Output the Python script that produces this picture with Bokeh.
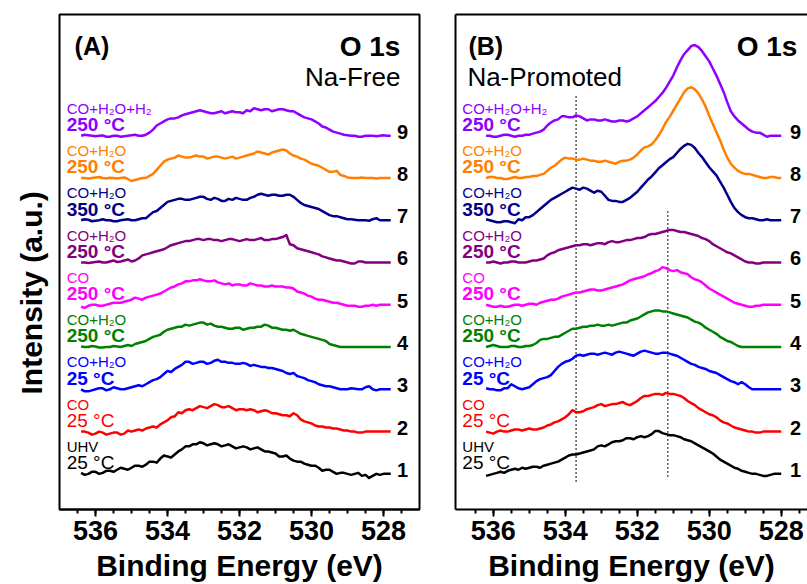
from bokeh.plotting import figure
from bokeh.layouts import row
from bokeh.models import Range1d, FixedTicker, Label, Title, LinearAxis
from bokeh.embed import file_html
from bokeh.resources import INLINE

FONT = "Liberation Sans"

# ---------------- data ----------------
energy_free = [536.4, 536.3, 536.2, 536.1, 536.0, 535.9, 535.8, 535.7, 535.6, 535.5,
               535.4, 535.3, 535.2, 535.1, 535.0, 534.9, 534.8, 534.7, 534.6, 534.5,
               534.4, 534.3, 534.2, 534.1, 534.0, 533.9, 533.8, 533.7, 533.6, 533.5,
               533.4, 533.3, 533.2, 533.1, 533.0, 532.9, 532.8, 532.7, 532.6, 532.5,
               532.4, 532.3, 532.2, 532.1, 532.0, 531.9, 531.8, 531.7, 531.6, 531.5,
               531.4, 531.3, 531.2, 531.1, 531.0, 530.9, 530.8, 530.7, 530.6, 530.5,
               530.4, 530.3, 530.2, 530.1, 530.0, 529.9, 529.8, 529.7, 529.6, 529.5,
               529.4, 529.3, 529.2, 529.1, 529.0, 528.9, 528.8, 528.7, 528.6, 528.5,
               528.4, 528.3, 528.2, 528.1, 528.0, 527.9, 527.8]

free_1 = [1, -1, 0, 2, 2, 0, 1, 3, 3, 2, 4, 6, 5, 4, 6, 8, 8, 7, 9, 12,
          12, 11, 15, 18, 17, 16, 19, 22, 24, 27, 27, 29, 29, 31, 30, 28, 29, 30, 29, 27,
          28, 29, 27, 25, 26, 27, 26, 24, 25, 26, 24, 22, 22, 21, 20, 17, 17, 18, 15, 13,
          12, 12, 10, 9, 8, 8, 6, 3, 4, 4, 2, 0, 1, 1, 0, -1, 0, 1, -2, -1,
          -4, -2, 0, -1, 0, 0, 0]
free_2 = [0, 0, -1, -3, -2, 0, -1, -3, -2, -1, -1, -3, -2, 1, 0, 1, 2, 1, 3, 4,
          5, 4, 7, 9, 11, 14, 15, 19, 18, 21, 22, 21, 23, 25, 24, 23, 25, 27, 26, 24,
          24, 25, 23, 21, 22, 22, 21, 22, 21, 19, 20, 21, 20, 18, 18, 17, 16, 16, 15, 18,
          16, 12, 10, 9, 8, 6, 5, 5, 4, 4, 3, 3, 2, 1, 1, 0, 0, -1, -1, 0,
          0, 0, 0, 0, 0, 0, 0]
free_3 = [0, -2, -2, -1, 0, 1, 1, -1, 0, 2, 1, 0, 0, 1, 2, 3, 4, 3, 5, 7,
          9, 10, 12, 15, 18, 17, 20, 22, 24, 27, 27, 25, 26, 27, 27, 25, 26, 28, 29, 27,
          27, 26, 26, 25, 25, 26, 25, 23, 24, 23, 22, 22, 21, 21, 20, 19, 18, 16, 15, 16,
          13, 12, 11, 9, 8, 7, 5, 4, 3, 3, 2, 1, 0, 0, 0, 1, 0.5, 0, 0, 2,
          3, 0, -1, 0, 0, 0, 0]
free_4 = [0.5, 0, 0, 1, 0.5, -0.5, -0.5, 0, 0, 1, 0.5, 0, 1, 2, 1, 3, 4, 5, 6, 8,
          10, 11, 12, 15, 17, 18, 19, 20, 20, 22, 21, 22, 23, 24, 24, 22, 23, 21, 20, 20,
          19, 18, 18, 19, 19, 17, 18, 19, 19, 20, 20, 22, 21, 19, 19, 18, 17, 17, 16, 17,
          15, 13, 12, 11, 10, 9, 8, 7, 6, 3, 2, 1, 0, 0, 0, 0, 0, 0, 0, 0,
          0, 0, 0, 0, 0, 0, 0]
free_5 = [-2, -3, -1, 0, 0, -1, -1, 0, 1, 2, 2, 2, 3, 4, 5, 7, 6, 5, 7, 8,
          9, 10, 11, 13, 15, 17, 18, 20, 21, 23, 23, 24, 24, 25, 24, 23, 23, 24, 22, 21,
          20, 21, 19, 20, 20, 19, 19, 21, 20, 19, 19, 18, 18, 19, 18, 18, 18, 17, 17, 16,
          13, 12, 11, 9, 8, 6, 5, 5, 4, 3, 2, 2, 1, 0, -1, -1, -1, -2, -2, -1,
          -1, 0, -1, 0, 0, 0, 0]
free_6 = [0, 0, -0.5, 0, 0.5, 1, 0, 0, 1, 2, 0.5, 1, 2, 3, 1, 2, 4, 7, 8, 9,
          10, 11, 12, 13, 15, 17, 18, 19, 20, 21, 21, 22, 23, 23, 22, 23, 23, 22, 22, 21,
          22, 23, 23, 22, 21, 22, 23, 22, 22, 23, 24, 22, 22, 23, 23, 24, 25, 27, 18, 17,
          14, 13, 12, 11, 10, 9, 8, 6, 5, 4, 3, 2, 2, 1, 0, -1, -1, 1, 1, 0,
          0, 0, 0, 0, 0, 0, 0]
free_7 = [0, 1, 0.5, -1, -0.5, 0, 1, 0, 0, -1, -1, 0, 0.5, 1, 0, 0, 1, 2, 2, 5,
          8, 9, 12, 15, 18, 19, 20, 21, 21, 20, 20, 21, 22, 23, 23, 21, 20, 22, 21, 19,
          19, 21, 20, 22, 21, 20, 20, 22, 23, 25, 26, 25, 24, 25, 25, 24, 24, 25, 25, 23,
          20, 17, 15, 14, 13, 12, 11, 9, 7, 5, 4, 4, 3, 2, 1, 1, 0.5, 0, 0, 0,
          -0.5, 1, 2, 0, 0, 0, 0]
free_8 = [0, 0, -0.5, 0, 0.5, 1, 0, -0.5, 0.3, 0, -0.5, 0, 0.5, -1, -3, -2, -1, 0, 0, 2,
          4, 8, 12, 16, 18, 19, 20, 22, 21, 20, 20, 21, 22, 21, 21, 19, 20, 21, 21, 20,
          19, 20, 21, 19, 20, 21, 22, 23, 24, 26, 25, 24, 23, 25, 26, 27, 28, 27, 24, 22,
          21, 19, 18, 16, 14, 13, 12, 10, 8, 6, 6, 7, 3, 2, 0.5, 0, 0, 0, 0.5, 0,
          0, 0, -0.5, 0, 0, 0, 0]
free_9 = [0, 1, 0.5, 0, -0.5, 0, 0.3, -1, -1, 0, 0, -1, -0.5, 0, 0.5, 1, 0, 0, 1, 3,
          6, 10, 12, 14, 16, 17, 17, 18, 20, 21, 22, 23, 24, 25, 24, 23, 22, 22, 23, 24,
          22, 23, 24, 23, 23, 22, 25, 24, 27, 26, 25, 26, 26, 24, 25, 26, 26, 25, 24, 24,
          22, 20, 18, 17, 16, 14, 12, 9, 8, 6, 4, 3, 2, 1, 0.5, 0, 0, -1, -1, 0,
          0, 0, -0.5, 0, 0.5, 0, 0]

energy_na = [536.2, 536.1, 536.0, 535.9, 535.8, 535.7, 535.6, 535.5, 535.4, 535.3,
             535.2, 535.1, 535.0, 534.9, 534.8, 534.7, 534.6, 534.5, 534.4, 534.3,
             534.2, 534.1, 534.0, 533.9, 533.8, 533.7, 533.6, 533.5, 533.4, 533.3,
             533.2, 533.1, 533.0, 532.9, 532.8, 532.7, 532.6, 532.5, 532.4, 532.3,
             532.2, 532.1, 532.0, 531.9, 531.8, 531.7, 531.6, 531.5, 531.4, 531.3,
             531.2, 531.1, 531.0, 530.9, 530.8, 530.7, 530.6, 530.5, 530.4, 530.3,
             530.2, 530.1, 530.0, 529.9, 529.8, 529.7, 529.6, 529.5, 529.4, 529.3,
             529.2, 529.1, 529.0, 528.9, 528.8, 528.7, 528.6, 528.5, 528.4, 528.3,
             528.2, 528.1, 528.0]

na_1 = [-2, -1, 0, 1, 2, 1, 3, 4, 5, 4, 6, 5, 6, 7, 7, 6, 8, 9, 10, 11,
        12, 14, 16, 18, 19, 19, 20, 21, 22, 23, 24, 27, 28, 27, 29, 31, 32, 32, 33, 35,
        35, 34, 36, 37, 36, 37, 39, 42, 42, 40, 39, 38, 38, 37, 36, 34, 33, 32, 30, 28,
        26, 24, 22, 20, 17, 14, 12, 10, 8, 6, 5, 3, 2, 1, 0, 0, -1, -2, -2, -1,
        0, 0, 0]
na_2 = [0, -1, -2, 0, 1, 0, 0, 1, 2, 2, 1, 2, 3, 2, 2, 3, 4, 6, 7, 9,
        10, 12, 14, 17, 21, 19, 19, 20, 22, 23, 24, 26, 27, 25, 26, 27, 27, 28, 29, 27,
        26, 28, 30, 33, 35, 35, 36, 37, 37, 36, 38, 37, 37, 36, 35, 33, 30, 28, 26, 23,
        21, 19, 17, 16, 14, 11, 9, 8, 6, 4, 3, 2, 1, 0, 0, -1, -1, 0, 0, 0,
        0, 0, 0]
na_3 = [1, 0, 0, -1, -1, 1, 1, 5, 3, 1, 0, 1, 2, 5, 8, 10, 11, 12, 14, 18,
        22, 25, 27, 28, 30, 33, 34, 33, 34, 35, 35, 34, 35, 36, 35, 34, 36, 37, 36, 35,
        34, 33, 35, 37, 38, 37, 36, 35, 35, 36, 36, 35, 34, 33, 31, 29, 27, 25, 24, 22,
        21, 20, 18, 17, 16, 14, 12, 10, 8, 7, 5, 7, 5, 2, 0, 0, 0, 0, 0, 0,
        0, 0, 0]
na_4 = [0, 1, 2, 1, 0, 0, 0, 1, 1, 0, 0, 1, 1, 2, 4, 7, 8, 8, 9, 10,
        10, 12, 14, 16, 18, 18, 19, 20, 20, 21, 21, 22, 21, 21, 22, 21, 22, 23, 24, 24,
        26, 27, 28, 30, 32, 34, 35, 36, 36, 35, 35, 34, 33, 32, 31, 30, 29, 27, 25, 24,
        22, 19, 17, 15, 13, 10, 8, 6, 5, 3, 1, 0, 0, 0, 0, 0, 0, 0, 0, 0,
        0, 0, 0]
na_5 = [0, -1, -2, -2, -1, -2, -2, -1, 0, 0, -1, 0, 1, 1, 0, 2, 3, 4, 5, 5,
        6, 8, 9, 10, 11, 12, 12, 13, 14, 15, 15, 14, 14, 15, 16, 17, 18, 19, 20, 22,
        24, 25, 26, 27, 28, 30, 31, 33, 34, 37, 36, 34, 33, 34, 32, 31, 30, 27, 25, 24,
        22, 19, 16, 14, 12, 10, 8, 6, 4, 2, 1, 0, -1, -2, -2, -1, -1, 0, 0, 0,
        0, 0, 0]
na_6 = [0, 0, 1, 0, -1, 0, 0, 1, 1, 0, 0, 0, 1, 2, 2, 3, 4, 7, 9, 10,
        12, 13, 14, 15, 16, 17, 17, 18, 18, 17, 18, 19, 19, 18, 20, 21, 20, 20, 21, 22,
        22, 23, 24, 24, 25, 27, 28, 28, 29, 30, 31, 32, 32, 31, 30, 30, 29, 28, 27, 26,
        24, 23, 21, 18, 16, 14, 12, 10, 9, 7, 5, 3, 1, 0, 0, -1, -1, 0, 0, 0,
        0, 0, 0]
na_7 = [1, 0, -1, -2, -2, -1, -1, -2, -3, 1, 0, 3, 3, 5, 8, 11, 14, 17, 20, 22,
        24, 26, 28, 30, 32, 31, 30, 32, 31, 29, 27, 29, 28, 24, 20, 19, 19, 18, 18, 20,
        22, 25, 28, 32, 36, 40, 43, 47, 51, 54, 57, 60, 62, 66, 70, 73, 75, 74, 71, 66,
        62, 57, 52, 48, 44, 38, 32, 25, 18, 12, 8, 5, 3, 2, 2, 1, 0, 0, 1, 0,
        0, 0, 0]
na_8 = [0, 1, 1, 0, 0, -1, -1, 0, 1, 0, 0, 1, 1, 2, 2, 3, 4, 7, 10, 12,
        15, 18, 20, 19, 19, 18, 18, 19, 18, 17, 17, 16, 16, 17, 16, 15, 14, 16, 17, 17,
        18, 20, 23, 27, 30, 31, 33, 37, 42, 48, 55, 60, 66, 72, 78, 84, 88, 89, 87, 83,
        77, 70, 61, 53, 45, 37, 28, 20, 14, 10, 7, 5, 4, 4, 3, 2, 1, 0, 0, 1,
        1, 0, 0]
na_9 = [0, 0, -1, -1, 0, 1, 1, 0, -1, 0, 0, 1, 1, 2, 3, 4, 6, 10, 13, 15,
        16, 19, 19, 18, 18, 20, 19, 17, 15, 16, 16, 15, 15, 16, 15, 14, 14, 15, 15, 14,
        15, 17, 19, 22, 25, 28, 31, 34, 38, 42, 47, 53, 59, 67, 74, 80, 84, 88, 89, 87,
        83, 78, 73, 66, 59, 51, 43, 33, 24, 19, 15, 12, 9, 6, 4, 3, 3, 1, -1, 0,
        0, 0, 0]

condition_gas = ["UHV", "CO", "CO+H\u2082O", "CO+H\u2082O", "CO", "CO+H\u2082O",
                 "CO+H\u2082O", "CO+H\u2082O", "CO+H\u2082O+H\u2082"]
condition_temp = ["25 \u00b0C", "25 \u00b0C", "25 \u00b0C", "250 \u00b0C", "250 \u00b0C",
                  "250 \u00b0C", "350 \u00b0C", "250 \u00b0C", "250 \u00b0C"]
temp_bold = [False, False, True, True, True, True, True, True, True]
spectrum_numbers = ["1", "2", "3", "4", "5", "6", "7", "8", "9"]
colors = ["#000000", "#FF0000", "#0000FF", "#008000", "#FF00FF",
          "#800080", "#00008B", "#FF8000", "#8F00FF"]

# reference dotted lines (Na-promoted panel)
ref_energy = [533.7, 531.15]
ref_top = [373, 258]
ref_bottom = [-8, -3]

major_ticks = [536, 534, 532, 530, 528]
minor_ticks = [536.5, 536, 535.5, 535, 534.5, 534, 533.5, 533, 532.5, 532,
               531.5, 531, 530.5, 530, 529.5, 529, 528.5, 528, 527.5]

OFFSET = 41.5  # vertical stacking offset (a.u.)


def style_xaxis(ax):
    ax.ticker = FixedTicker(ticks=major_ticks, minor_ticks=minor_ticks)
    ax.axis_line_width = 2
    ax.axis_line_color = "black"
    ax.major_tick_in = 0
    ax.major_tick_out = 7
    ax.minor_tick_in = 0
    ax.minor_tick_out = 4
    ax.major_tick_line_width = 2
    ax.minor_tick_line_width = 2
    ax.major_label_text_font = FONT
    ax.major_label_text_font_size = "27px"
    ax.major_label_text_font_style = "bold"
    ax.major_label_text_color = "black"
    ax.major_label_standoff = 4
    ax.axis_label = "Binding Energy (eV)"
    ax.axis_label_text_font = FONT
    ax.axis_label_text_font_size = "30px"
    ax.axis_label_text_font_style = "bold"
    ax.axis_label_text_color = "black"
    ax.axis_label_standoff = 6


def plain_line_axis():
    ax = LinearAxis(ticker=FixedTicker(ticks=[]))
    ax.axis_line_width = 2
    ax.axis_line_color = "black"
    ax.major_tick_out = 0
    ax.major_tick_in = 0
    ax.minor_tick_out = 0
    ax.minor_tick_in = 0
    ax.major_label_text_font_size = "0px"
    return ax


def add_series(p, energy, series, label_x, number_x):
    for i, ys in enumerate(series):
        base = i * OFFSET
        p.line(energy, [v + base for v in ys], line_color=colors[i], line_width=2.5,
               line_join="round")
        p.add_layout(Label(x=label_x, y=base + 27, text=condition_gas[i],
                           text_font=FONT, text_font_size="15px",
                           text_color=colors[i], text_align="left",
                           text_baseline="middle"))
        p.add_layout(Label(x=label_x, y=base + 11, text=condition_temp[i],
                           text_font=FONT, text_font_size="19px",
                           text_font_style="bold" if temp_bold[i] else "normal",
                           text_color=colors[i], text_align="left",
                           text_baseline="middle"))
        p.add_layout(Label(x=number_x, y=base + 4, text=spectrum_numbers[i],
                           text_font=FONT, text_font_size="20px",
                           text_font_style="bold", text_color="black",
                           text_align="center", text_baseline="middle"))


def header(p, x, y, text, size, bold, align):
    p.add_layout(Label(x=x, y=y, text=text, text_font=FONT, text_font_size=size,
                       text_font_style="bold" if bold else "normal",
                       text_color="black", text_align=align, text_baseline="middle"))


# ---------------- panel A ----------------
pA = figure(width=430, height=584, x_range=Range1d(537.0, 527.0),
            y_range=Range1d(-35, 451), output_backend="svg", toolbar_location=None,
            y_axis_location=None, min_border_left=59, min_border_right=11,
            min_border_top=14, min_border_bottom=0)
pA.grid.visible = False
pA.outline_line_color = "black"
pA.outline_line_width = 2
pA.outline_line_alpha = 1
pA.background_fill_color = "white"
pA.border_fill_color = "white"
style_xaxis(pA.xaxis[0])
title = Title(text="Intensity (a.u.)", align="left", offset=115,
              text_font=FONT, text_font_size="30px", text_font_style="bold",
              text_color="black", standoff=23)
pA.add_layout(title, "left")

add_series(pA, energy_free,
           [free_1, free_2, free_3, free_4, free_5, free_6, free_7, free_8, free_9],
           536.8, 527.47)
header(pA, 536.58, 420, "(A)", "25px", True, "left")
header(pA, 527.53, 420, "O 1s", "28px", True, "right")
header(pA, 527.53, 390, "Na-Free", "26px", False, "right")

# ---------------- panel B ----------------
pB = figure(width=377, height=584, x_range=Range1d(537.05, 527.27),
            y_range=Range1d(-35, 451), output_backend="svg", toolbar_location=None,
            y_axis_location=None, min_border_left=25, min_border_right=0,
            min_border_top=14, min_border_bottom=0)
pB.grid.visible = False
pB.outline_line_color = None
pB.background_fill_color = "white"
pB.border_fill_color = "white"
style_xaxis(pB.xaxis[0])
pB.add_layout(plain_line_axis(), "left")
pB.add_layout(plain_line_axis(), "above")

pB.segment(x0=ref_energy, y0=ref_bottom, x1=ref_energy, y1=ref_top,
           line_color="black", line_width=1, line_dash="2 2")
add_series(pB, energy_na,
           [na_1, na_2, na_3, na_4, na_5, na_6, na_7, na_8, na_9],
           536.86, 527.6)
header(pB, 536.69, 420, "(B)", "25px", True, "left")
header(pB, 527.55, 420, "O 1s", "28px", True, "right")
header(pB, 536.72, 390, "Na-Promoted", "26px", False, "left")

layout = row(pA, pB)
open("out.html", "w").write(file_html(layout, INLINE))
